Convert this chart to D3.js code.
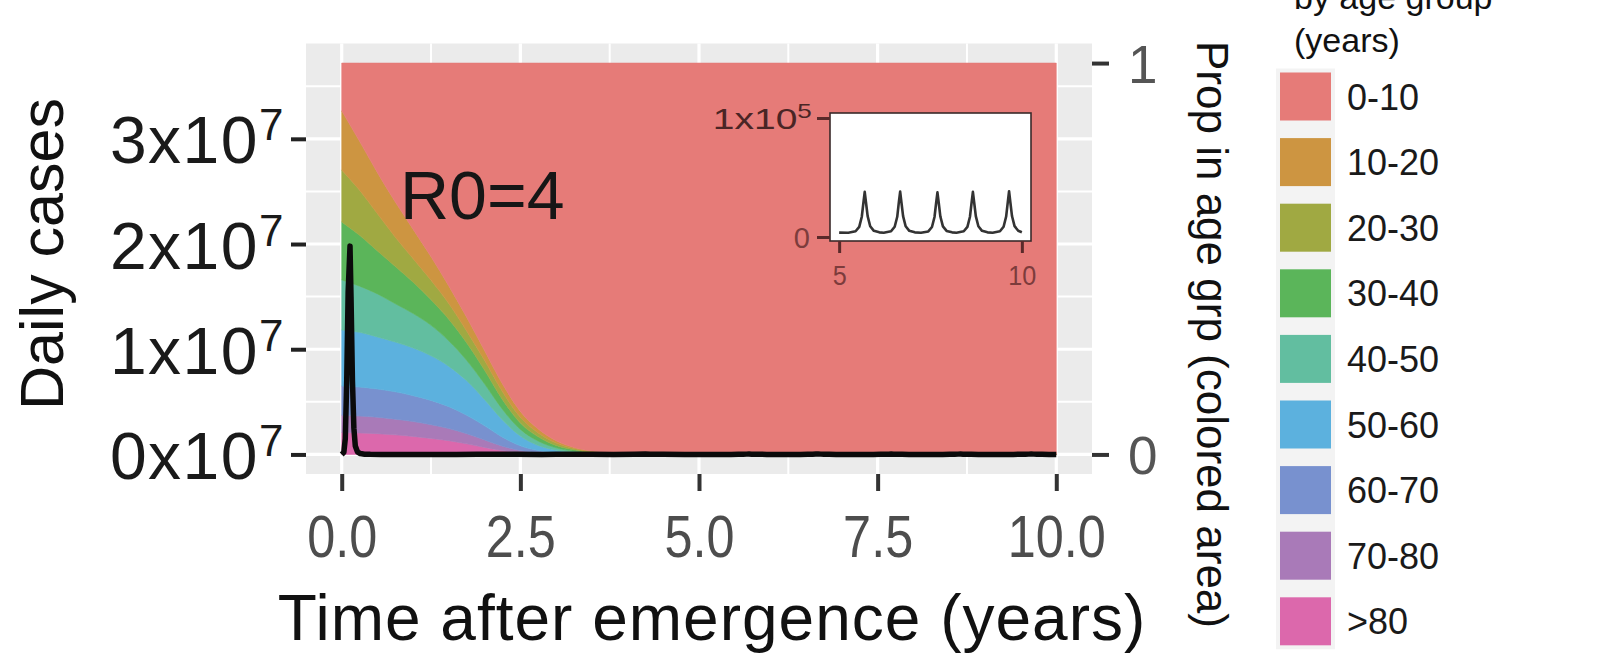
<!DOCTYPE html>
<html>
<head>
<meta charset="utf-8">
<script src="https://cdn.jsdelivr.net/npm/d3@7"></script>
<style>
  body { margin: 0; background: #fff; }
  svg { display: block; font-family: "Liberation Sans", Arial, Helvetica, sans-serif; }
</style>
</head>
<body>
<svg id="chart" width="1619" height="657"></svg>
<script>
// ---- data ---------------------------------------------------------------
const ageGroups = ["0-10", "10-20", "20-30", "30-40", "40-50", "50-60", "60-70", "70-80", ">80"];
const ageColors = ["#E67B78", "#CD9541", "#A0A942", "#5BB55A", "#62BEA0", "#5CB1DE", "#7891CF", "#A97AB8", "#DC68AC"];

// years after emergence at which the age make-up of cases is known
const propTimes = [0, 0.25, 0.5, 0.75, 1.0, 1.25, 1.5, 1.75, 2.0, 2.25, 2.5, 2.75, 3.0, 3.25, 3.5, 4.0, 5.0, 10.0];

// proportion of cases in each age group
const shares0to10  = [0.122, 0.200, 0.280, 0.355, 0.425, 0.495, 0.570, 0.650, 0.735, 0.820, 0.890, 0.935, 0.965, 0.982, 0.991, 0.997, 0.9995, 1];
const shares10to20 = [0.151, 0.125, 0.105, 0.090, 0.075, 0.060, 0.045, 0.035, 0.025, 0.020, 0.015, 0.010, 0.006, 0.003, 0.002, 0.0005, 0.0001, 0];
const shares20to30 = [0.133, 0.115, 0.095, 0.075, 0.060, 0.050, 0.040, 0.030, 0.025, 0.020, 0.015, 0.010, 0.006, 0.003, 0.002, 0.0005, 0.0001, 0];
const shares30to40 = [0.148, 0.130, 0.110, 0.095, 0.080, 0.065, 0.055, 0.045, 0.035, 0.025, 0.016, 0.011, 0.006, 0.004, 0.0015, 0.0008, 0.0001, 0];
const shares40to50 = [0.128, 0.118, 0.110, 0.098, 0.088, 0.078, 0.065, 0.052, 0.040, 0.027, 0.017, 0.011, 0.006, 0.003, 0.0015, 0.0005, 0.0001, 0];
const shares50to60 = [0.143, 0.140, 0.133, 0.127, 0.122, 0.114, 0.103, 0.088, 0.067, 0.044, 0.025, 0.013, 0.0065, 0.003, 0.0012, 0.0004, 0.0001, 0];
const shares60to70 = [0.075, 0.074, 0.072, 0.070, 0.066, 0.062, 0.056, 0.047, 0.036, 0.023, 0.012, 0.0055, 0.0025, 0.0012, 0.0005, 0.0002, 0, 0];
const shares70to80 = [0.044, 0.043, 0.042, 0.040, 0.038, 0.035, 0.031, 0.026, 0.019, 0.011, 0.0055, 0.0025, 0.0012, 0.0005, 0.0002, 0.0001, 0, 0];
const shares80plus = [0.056, 0.055, 0.053, 0.050, 0.046, 0.041, 0.035, 0.027, 0.018, 0.010, 0.0045, 0.002, 0.0008, 0.0003, 0.0001, 0, 0, 0];
const ageShares = [shares0to10, shares10to20, shares20to30, shares30to40, shares40to50,
                   shares50to60, shares60to70, shares70to80, shares80plus];

// daily cases (all ages)
const caseTimes = [
  0, 0.03, 0.05, 0.07, 0.09, 0.116, 0.13, 0.15, 0.17, 0.19, 0.22, 0.26, 0.32, 0.40, 0.55, 0.75,
  1.0, 1.3, 1.6, 1.9, 2.1, 2.25, 2.45, 2.8, 3.0, 3.2, 3.3, 3.5, 3.8, 4.1, 4.25, 4.32, 4.5, 4.8,
  5.00, 5.25, 5.45, 5.55, 5.62, 5.665, 5.70, 5.735, 5.78, 5.85, 5.95, 6.10,
  6.22, 6.42, 6.52, 6.59, 6.635, 6.67, 6.705, 6.75, 6.82, 6.92, 7.07,
  7.24, 7.44, 7.54, 7.61, 7.655, 7.69, 7.725, 7.77, 7.84, 7.94, 8.09,
  8.21, 8.41, 8.51, 8.58, 8.625, 8.66, 8.695, 8.74, 8.81, 8.91, 9.06,
  9.20, 9.40, 9.50, 9.57, 9.615, 9.65, 9.685, 9.73, 9.80, 9.90, 10.0
];
const caseValues = [
  1000, 2e5, 1.5e6, 7e6, 1.55e7, 1.98e7, 1.5e7, 7e6, 2.5e6, 8e5, 2.5e5, 8e4, 2.5e4, 8000, 1500, 400,
  300, 600, 2500, 9000, 20000, 14000, 6000, 4000, 9000, 26000, 16000, 5500, 3800, 11000, 32000, 22000, 6000, 3700,
  3700, 3600, 4800, 8500, 17000, 29000, 38000, 29000, 17500, 9000, 5200, 3900,
  3600, 4800, 8600, 17000, 29500, 38200, 29000, 17500, 9000, 5200, 3900,
  3600, 4700, 8400, 16800, 28800, 37500, 28800, 17200, 8900, 5100, 3900,
  3600, 4800, 8500, 17000, 29000, 38000, 29000, 17500, 9000, 5200, 3900,
  3600, 4800, 8600, 17200, 29300, 38500, 29200, 17600, 9100, 5300, 4000
];

// axis breaks and labels
const xTicks = [0, 2.5, 5, 7.5, 10];
const xTickLabels = ["0.0", "2.5", "5.0", "7.5", "10.0"];
const xMinor = [1.25, 3.75, 6.25, 8.75];
const yTicks = [0, 1e7, 2e7, 3e7];
const yTickMantissa = ["0", "1", "2", "3"];
const yTickExponent = "7";
const yMinor = [0.5e7, 1.5e7, 2.5e7, 3.5e7];
const propTicks = [0, 1];
const propTickLabels = ["0", "1"];
const insetXTicks = [5, 10];
const insetXTickLabels = ["5", "10"];
const insetYTicks = [0, 1e5];

// ---- layout -------------------------------------------------------------
const svg = d3.select("#chart");
const panel = { left: 306, right: 1092, top: 43.5, bottom: 474 };
const casesAtFullProp = 3.72e7;   // daily cases that line up with proportion = 1

const x = d3.scaleLinear().domain([-0.5, 10.5]).range([panel.left, panel.right]);
const yProp = d3.scaleLinear().domain([-0.05, 1.05]).range([panel.bottom, panel.top]);
const yCases = d3.scaleLinear()
  .domain([-0.05 * casesAtFullProp, 1.05 * casesAtFullProp])
  .range([panel.bottom, panel.top]);

// panel background and grid
svg.append("rect")
  .attr("x", panel.left).attr("y", panel.top)
  .attr("width", panel.right - panel.left).attr("height", panel.bottom - panel.top)
  .attr("fill", "#EBEBEB");

const grid = svg.append("g").attr("stroke", "#fff").attr("fill", "none");
grid.selectAll(".hmin").data(yMinor).join("line")
  .attr("x1", panel.left).attr("x2", panel.right)
  .attr("y1", d => yCases(d)).attr("y2", d => yCases(d)).attr("stroke-width", 2);
grid.selectAll(".vmin").data(xMinor).join("line")
  .attr("y1", panel.top).attr("y2", panel.bottom)
  .attr("x1", d => x(d)).attr("x2", d => x(d)).attr("stroke-width", 2);
grid.selectAll(".hmaj").data(yTicks).join("line")
  .attr("x1", panel.left).attr("x2", panel.right)
  .attr("y1", d => yCases(d)).attr("y2", d => yCases(d)).attr("stroke-width", 3.2);
grid.selectAll(".vmaj").data(xTicks).join("line")
  .attr("y1", panel.top).attr("y2", panel.bottom)
  .attr("x1", d => x(d)).attr("x2", d => x(d)).attr("stroke-width", 3.2);

// stacked age proportions (youngest group on top)
const rows = propTimes.map((t, i) => {
  const r = { t };
  ageGroups.forEach((g, k) => { r[g] = ageShares[k][i]; });
  return r;
});
const stackKeys = ageGroups.slice().reverse();
const stacked = d3.stack().keys(stackKeys)(rows);
const colorOf = d3.scaleOrdinal().domain(ageGroups).range(ageColors);

const area = d3.area()
  .x(d => x(d.data.t))
  .y0(d => yProp(d[0]))
  .y1(d => yProp(d[1]))
  .curve(d3.curveMonotoneX);

svg.append("g").selectAll("path").data(stacked).join("path")
  .attr("d", area)
  .attr("fill", s => colorOf(s.key))
  .attr("stroke", s => colorOf(s.key))
  .attr("stroke-width", 0.6);

// daily cases line
const cases = caseTimes.map((t, i) => ({ t, v: caseValues[i] }));
svg.append("path")
  .datum(cases)
  .attr("d", d3.line().x(d => x(d.t)).y(d => yCases(d.v)))
  .attr("fill", "none")
  .attr("stroke", "#0b0b0b")
  .attr("stroke-width", 5.5)
  .attr("stroke-linejoin", "round");

// ---- axes -----------------------------------------------------------------
function styleTicks(g, color, width) {
  g.select(".domain").remove();
  g.attr("font-family", null).attr("font-size", null);
  g.selectAll(".tick line").attr("stroke", color).attr("stroke-width", width);
}

// bottom: years
const xAxisG = svg.append("g")
  .attr("transform", `translate(0,${panel.bottom})`)
  .call(d3.axisBottom(x).tickValues(xTicks).tickSize(17).tickSizeOuter(0)
    .tickFormat((d, i) => xTickLabels[i]));
styleTicks(xAxisG, "#333", 4);
xAxisG.selectAll(".tick text")
  .attr("y", 83).attr("dy", 0)
  .attr("font-size", 60).attr("fill", "#4D4D4D")
  .attr("transform", "scale(0.84,1)");

// left: daily cases
const yAxisG = svg.append("g")
  .attr("transform", `translate(${panel.left},0)`)
  .call(d3.axisLeft(yCases).tickValues(yTicks).tickSize(15).tickSizeOuter(0));
styleTicks(yAxisG, "#222", 4);
yAxisG.selectAll(".tick text").each(function (d, i) {
  const t = d3.select(this);
  t.text(null).attr("x", -21).attr("y", 24).attr("dy", 0)
    .attr("text-anchor", "end").attr("font-size", 66).attr("fill", "#1A1A1A")
    .attr("letter-spacing", 1.5);
  t.append("tspan").text(yTickMantissa[i] + "x10");
  t.append("tspan").attr("dy", -23).attr("font-size", 44).text(yTickExponent);
});

// right: proportion in age group
const pAxisG = svg.append("g")
  .attr("transform", `translate(${panel.right},0)`)
  .call(d3.axisRight(yProp).tickValues(propTicks).tickSize(17).tickSizeOuter(0)
    .tickFormat((d, i) => propTickLabels[i]));
styleTicks(pAxisG, "#333", 4);
pAxisG.selectAll(".tick text")
  .attr("x", 36).attr("dy", "0.36em")
  .attr("font-size", 53).attr("fill", "#555");

// axis titles
svg.append("text")
  .attr("transform", "translate(63,254) rotate(-90)")
  .attr("text-anchor", "middle").attr("font-size", 61).attr("fill", "#111")
  .text("Daily cases");
svg.append("text")
  .attr("x", 712).attr("y", 640)
  .attr("text-anchor", "middle").attr("font-size", 64).attr("fill", "#111")
  .attr("letter-spacing", 1)
  .text("Time after emergence (years)");
svg.append("text")
  .attr("transform", "translate(1197,41) rotate(90)")
  .attr("text-anchor", "start").attr("font-size", 44).attr("fill", "#111")
  .text("Prop in age grp (colored area)");

// R0 annotation
svg.append("text")
  .attr("x", 400).attr("y", 219)
  .attr("font-size", 68).attr("fill", "#161616")
  .text("R0=4");

// ---- inset: years 5 to 10 -----------------------------------------------
const inset = { left: 830, right: 1031, top: 113, bottom: 241 };
const xIn = d3.scaleLinear().domain([4.75, 10.25]).range([inset.left, inset.right]);
const yIn = d3.scaleLinear().domain([0, 1e5]).range([237, 118]);

svg.append("rect")
  .attr("x", inset.left).attr("y", inset.top)
  .attr("width", inset.right - inset.left).attr("height", inset.bottom - inset.top)
  .attr("fill", "#fff").attr("stroke", "#3a2a2a").attr("stroke-width", 1.6);

svg.append("path")
  .datum(cases.filter(d => d.t >= 5))
  .attr("d", d3.line().x(d => xIn(d.t)).y(d => yIn(d.v)))
  .attr("fill", "none").attr("stroke", "#333").attr("stroke-width", 2.6)
  .attr("stroke-linejoin", "round");

const inYAxis = svg.append("g")
  .attr("transform", `translate(${inset.left},0)`)
  .call(d3.axisLeft(yIn).tickValues(insetYTicks).tickSize(13).tickSizeOuter(0));
styleTicks(inYAxis, "#5a2a2a", 3);
inYAxis.selectAll(".tick text").each(function (d) {
  const t = d3.select(this);
  t.text(null).attr("y", 10).attr("dy", 0).attr("text-anchor", "end");
  if (d === 0) {
    t.attr("x", -20).attr("font-size", 29).attr("fill", "#7d3c3c")
      .append("tspan").text("0");
  } else {
    t.attr("x", -14).attr("font-size", 30).attr("fill", "#4a2525")
      .attr("transform", "scale(1.3,1)");
    t.append("tspan").text("1x10");
    t.append("tspan").attr("dy", -11).attr("font-size", 20).text("5");
  }
});

const inXAxis = svg.append("g")
  .attr("transform", `translate(0,${inset.bottom})`)
  .call(d3.axisBottom(xIn).tickValues(insetXTicks).tickSize(12).tickSizeOuter(0)
    .tickFormat((d, i) => insetXTickLabels[i]));
styleTicks(inXAxis, "#5a2a2a", 3);
inXAxis.selectAll(".tick text")
  .attr("y", 44).attr("dy", 0)
  .attr("font-size", 28).attr("fill", "#7d3c3c")
  .attr("transform", "scale(0.9,1)");

// ---- legend ---------------------------------------------------------------
const legend = svg.append("g");
legend.append("text").attr("x", 1294).attr("y", 9).attr("font-size", 34).attr("fill", "#111")
  .text("by age group");
legend.append("text").attr("x", 1294).attr("y", 52).attr("font-size", 34).attr("fill", "#111")
  .text("(years)");

const keyTop = 72.5, keyStep = 65.6, keyW = 51, keyH = 48;
legend.append("rect")
  .attr("x", 1276).attr("y", keyTop - 4)
  .attr("width", keyW + 8).attr("height", keyStep * (ageGroups.length - 1) + keyH + 8)
  .attr("fill", "#F3F3F3");
const keys = legend.selectAll(".key").data(ageGroups).join("g")
  .attr("transform", (d, i) => `translate(1280,${keyTop + i * keyStep})`);
keys.append("rect")
  .attr("width", keyW).attr("height", keyH)
  .attr("fill", d => colorOf(d));
keys.append("text")
  .attr("x", 67).attr("y", keyH / 2 + 13)
  .attr("font-size", 36).attr("fill", "#1A1A1A")
  .text(d => d);
</script>
</body>
</html>
